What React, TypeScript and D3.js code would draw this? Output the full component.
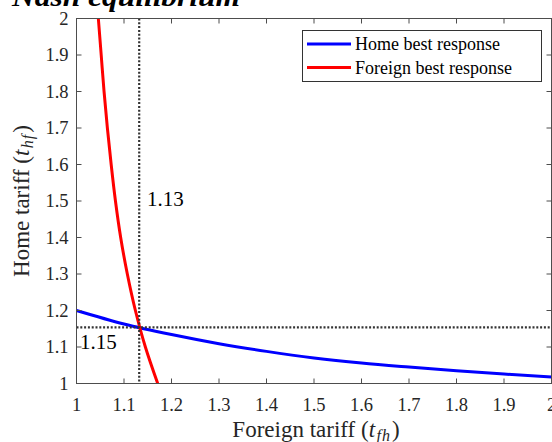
import React from 'react';
import * as d3 from 'd3';

const W = 552;
const H = 442;

// Home best response: t_hf as a function of t_fh
const homeX = [1.0, 1.1, 1.2, 1.3, 1.4, 1.5, 1.6, 1.7, 1.8, 1.9, 2.0];
const homeY = [1.2, 1.163, 1.134, 1.109, 1.088, 1.07, 1.056, 1.045, 1.035, 1.026, 1.018];

// Foreign best response: t_fh as a function of t_hf
const foreignY = [1.0, 1.1, 1.2, 1.3, 1.4, 1.5, 1.6, 1.7, 1.8, 1.9, 2.0];
const foreignX = [1.171, 1.145, 1.124, 1.107, 1.093, 1.082, 1.073, 1.065, 1.058, 1.052, 1.046];

const eqX = 1.132;
const eqY = 1.154;
const eqXLabel = '1.13';
const eqYLabel = '1.15';

const tickValues = [1, 1.1, 1.2, 1.3, 1.4, 1.5, 1.6, 1.7, 1.8, 1.9, 2];
const tickLabels = ['1', '1.1', '1.2', '1.3', '1.4', '1.5', '1.6', '1.7', '1.8', '1.9', '2'];

const legendLabels = ['Home best response', 'Foreign best response'];
const seriesColors = ['#0000ff', '#ff0000'];

const FONT = '"Liberation Serif", "Times New Roman", serif';

export default function App() {
  const x = d3.scaleLinear().domain([1, 2]).range([76.5, 551.5]);
  const y = d3.scaleLinear().domain([1, 2]).range([383.5, 18.5]);
  const [x0, x1] = x.range();
  const [y0, y1] = y.range();

  const homeLine = d3
    .line<number>()
    .x((_, i) => x(homeX[i]))
    .y((d) => y(d))
    .curve(d3.curveMonotoneX)(homeY) as string;

  const foreignLine = d3
    .line<number>()
    .x((d) => x(d))
    .y((_, i) => y(foreignY[i]))
    .curve(d3.curveMonotoneY)(foreignX) as string;

  const axisColor = '#4d4d4d';
  const tl = 5;

  return (
    <div style={{ position: 'absolute', left: 0, top: 0 }}>
      <svg width={W} height={H} style={{ display: 'block', background: '#fff' }}>
        <defs>
          <clipPath id="plotClip">
            <rect x={x0} y={y1} width={x1 - x0} height={y0 - y1} />
          </clipPath>
        </defs>

        {/* title (cropped at top) */}
        <text
          x={12}
          y={6}
          fontFamily={FONT}
          fontWeight="bold"
          fontStyle="italic"
          fontSize={28}
          textLength={228}
          lengthAdjust="spacingAndGlyphs"
          fill="#000"
        >
          Nash equilibrium
        </text>

        {/* curves */}
        <g clipPath="url(#plotClip)">
          <path d={homeLine} fill="none" stroke={seriesColors[0]} strokeWidth={3} />
          <path d={foreignLine} fill="none" stroke={seriesColors[1]} strokeWidth={3} />
          <line
            x1={x(eqX)}
            x2={x(eqX)}
            y1={y1}
            y2={y0}
            stroke="#333"
            strokeWidth={2.2}
            strokeDasharray="2 1.8"
          />
          <line
            x1={x0}
            x2={x1}
            y1={y(eqY)}
            y2={y(eqY)}
            stroke="#333"
            strokeWidth={2.2}
            strokeDasharray="2 1.8"
          />
        </g>

        {/* annotations */}
        <text x={147} y={206} fontFamily={FONT} fontSize={21} fill="#000">
          {eqXLabel}
        </text>
        <text x={80} y={349} fontFamily={FONT} fontSize={21} fill="#000">
          {eqYLabel}
        </text>

        {/* box */}
        <rect x={x0} y={y1} width={x1 - x0} height={y0 - y1} fill="none" stroke={axisColor} strokeWidth={1} />

        {/* ticks */}
        {tickValues.map((v, i) => (
          <g key={'xt' + i}>
            <line x1={x(v)} x2={x(v)} y1={y0} y2={y0 - tl} stroke={axisColor} />
            <line x1={x(v)} x2={x(v)} y1={y1} y2={y1 + tl} stroke={axisColor} />
            <text
              x={x(v)}
              y={411}
              textAnchor="middle"
              fontFamily={FONT}
              fontSize={18.5}
              fill="#262626"
            >
              {tickLabels[i]}
            </text>
          </g>
        ))}
        {tickValues.map((v, i) => (
          <g key={'yt' + i}>
            <line x1={x0} x2={x0 + tl} y1={y(v)} y2={y(v)} stroke={axisColor} />
            <line x1={x1} x2={x1 - tl} y1={y(v)} y2={y(v)} stroke={axisColor} />
            <text
              x={68.5}
              y={y(v) + 6}
              textAnchor="end"
              fontFamily={FONT}
              fontSize={18.5}
              fill="#262626"
            >
              {tickLabels[i]}
            </text>
          </g>
        ))}

        {/* axis labels */}
        <text
          x={316}
          y={437}
          textAnchor="middle"
          fontFamily={FONT}
          fontSize={23}
          fill="#262626"
        >
          Foreign tariff (<tspan fontStyle="italic">t</tspan>
          <tspan fontStyle="italic" fontSize={16} dx={1.5} dy={4} letterSpacing={1}>fh</tspan>
          <tspan dx={1} dy={-4}>)</tspan>
        </text>
        <text
          transform={`translate(29,${(y0 + y1) / 2}) rotate(-90)`}
          textAnchor="middle"
          fontFamily={FONT}
          fontSize={23}
          fill="#262626"
        >
          Home tariff (<tspan fontStyle="italic">t</tspan>
          <tspan fontStyle="italic" fontSize={16} dx={1.5} dy={4} letterSpacing={1}>hf</tspan>
          <tspan dx={1} dy={-4}>)</tspan>
        </text>

        {/* legend */}
        <rect x={302.5} y={30.5} width={239} height={51} fill="#fff" stroke="#333" strokeWidth={1} />
        {legendLabels.map((lab, i) => {
          const ly = 44 + i * 23.5;
          return (
            <g key={'lg' + i}>
              <line x1={307} x2={351} y1={ly} y2={ly} stroke={seriesColors[i]} strokeWidth={3} />
              <text x={355} y={ly + 6} fontFamily={FONT} fontSize={18} fill="#000">
                {lab}
              </text>
            </g>
          );
        })}
      </svg>
    </div>
  );
}
